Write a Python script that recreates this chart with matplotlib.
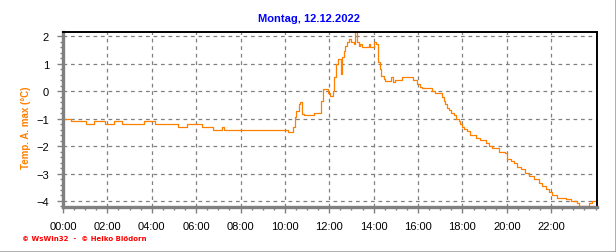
import matplotlib
matplotlib.use('Agg')
from matplotlib import pyplot as plt
from matplotlib.lines import Line2D
from matplotlib.ticker import MultipleLocator, FixedLocator

# hours since midnight and temperature (°C)
hours = [0.0, 0.38, 1.02, 1.40, 1.88, 2.29, 2.64, 3.66, 4.14, 5.19, 5.57, 6.25,
         6.74, 7.15, 7.25, 10.16, 10.38, 10.45, 10.52, 10.62, 10.69, 10.77, 10.86,
         11.29, 11.62, 11.70, 11.92, 12.05, 12.15, 12.22, 12.28, 12.37, 12.52, 12.58,
         12.65, 12.72, 12.80, 12.90, 12.99, 13.10, 13.18, 13.25, 13.32, 13.40, 13.47,
         13.77, 13.84, 14.00, 14.10, 14.20, 14.28, 14.35, 14.45, 14.52, 14.78, 14.88,
         14.97, 15.28, 15.78, 15.96, 16.07, 16.18, 16.63, 16.75, 16.98, 17.08, 17.16,
         17.23, 17.31, 17.38, 17.49, 17.61, 17.73, 17.83, 17.91, 17.99, 18.06, 18.21,
         18.33, 18.59, 18.81, 19.04, 19.19, 19.34, 19.64, 19.94, 20.02, 20.17, 20.32,
         20.47, 20.62, 20.84, 20.99, 21.22, 21.44, 21.60, 21.75, 21.90, 22.05, 22.28,
         22.65, 22.88, 23.18, 23.25, 23.70, 23.85, 24.05]
temps = [-1.0, -1.1, -1.2, -1.1, -1.2, -1.1, -1.2, -1.1, -1.2, -1.3, -1.2, -1.3,
         -1.4, -1.3, -1.4, -1.5, -1.3, -0.95, -0.72, -0.45, -0.41, -0.84, -0.88,
         -0.8, -0.35, 0.07, -0.05, -0.17, 0.01, 0.5, 0.99, 1.17, 0.62, 1.23,
         1.47, 1.65, 1.78, 1.9, 1.8, 1.72, 2.14, 1.78, 1.65, 1.72, 1.6,
         1.72, 1.6, 1.8, 1.72, 1.05, 0.8, 0.56, 0.45, 0.38, 0.5, 0.32,
         0.4, 0.5, 0.4, 0.26, 0.17, 0.1, 0.01, -0.05, -0.08, -0.23, -0.35,
         -0.47, -0.6, -0.68, -0.78, -0.88, -1.0, -1.08, -1.2, -1.3, -1.39, -1.45,
         -1.6, -1.69, -1.78, -1.9, -2.0, -2.08, -2.2, -2.24, -2.48, -2.54, -2.63,
         -2.75, -2.85, -2.97, -3.09, -3.21, -3.33, -3.46, -3.58, -3.67, -3.8, -3.88,
         -3.94, -4.0, -4.09, -4.19, -4.06, -4.0, -4.0]

xtick_pos = list(range(0, 24, 2))
xtick_labels = ['%02d:00' % h for h in xtick_pos]

title = 'Montag, 12.12.2022'
ylabel = 'Temp. A. max (°C)'
footer = '\u00a9 WsWin32  -  \u00a9 Heiko Blödorn'

plt.rcParams['font.family'] = ['Liberation Sans', 'DejaVu Sans']

W, H = 616, 253
fig = plt.figure(figsize=(W / 100, H / 100), dpi=100)
ax = fig.add_axes([63 / W, 1 - 208.3 / H, (596.7 - 63) / W, (208.3 - 33.3) / H])

orange = '#ff8000'
ax.plot(hours, temps, color=orange, lw=0.9, drawstyle='steps-post')

ax.set_xlim(0, 24.05)
ax.set_ylim(-4.23, 2.145)

ax.xaxis.set_major_locator(FixedLocator(xtick_pos))
ax.set_xticklabels(xtick_labels)
ax.xaxis.set_minor_locator(MultipleLocator(0.5))
ax.yaxis.set_major_locator(MultipleLocator(1))
ax.yaxis.set_minor_locator(MultipleLocator(0.2))

ax.grid(True, which='major', color='#808080', linestyle=(0, (3, 3)), lw=0.9)

for s in ['top', 'right']:
    ax.spines[s].set_color('black')
    ax.spines[s].set_linewidth(1.4)
for s in ['left', 'bottom']:
    ax.spines[s].set_color('#808080')
    ax.spines[s].set_linewidth(2.4)

ax.tick_params(which='major', direction='out', length=4, width=1, color='#808080',
               labelsize=8, labelcolor='black', pad=6)
ax.tick_params(which='minor', direction='out', length=2.5, width=1, color='#808080')

fig.text(308.5 / W, 1 - 19 / H, title, color='#0000ff', fontsize=8, fontweight='bold',
         ha='center', va='center')
fig.text(26.5 / W, 1 - 127.5 / H, ylabel, color=orange, fontsize=7, fontweight='bold',
         rotation=90, ha='center', va='center')
fig.text(22 / W, 1 - 239 / H, footer, color='#ff0000', fontsize=5, fontweight='bold',
         ha='left', va='center', family=['DejaVu Sans'])

# outer frame lines (right and bottom)
fig.add_artist(Line2D([615.5 / W, 615.5 / W], [0, 1], color='#a0a0a0', lw=1.2))
fig.add_artist(Line2D([0, 1], [0.5 / H, 0.5 / H], color='#a0a0a0', lw=1.2))

fig.savefig('out.png', dpi=100)
